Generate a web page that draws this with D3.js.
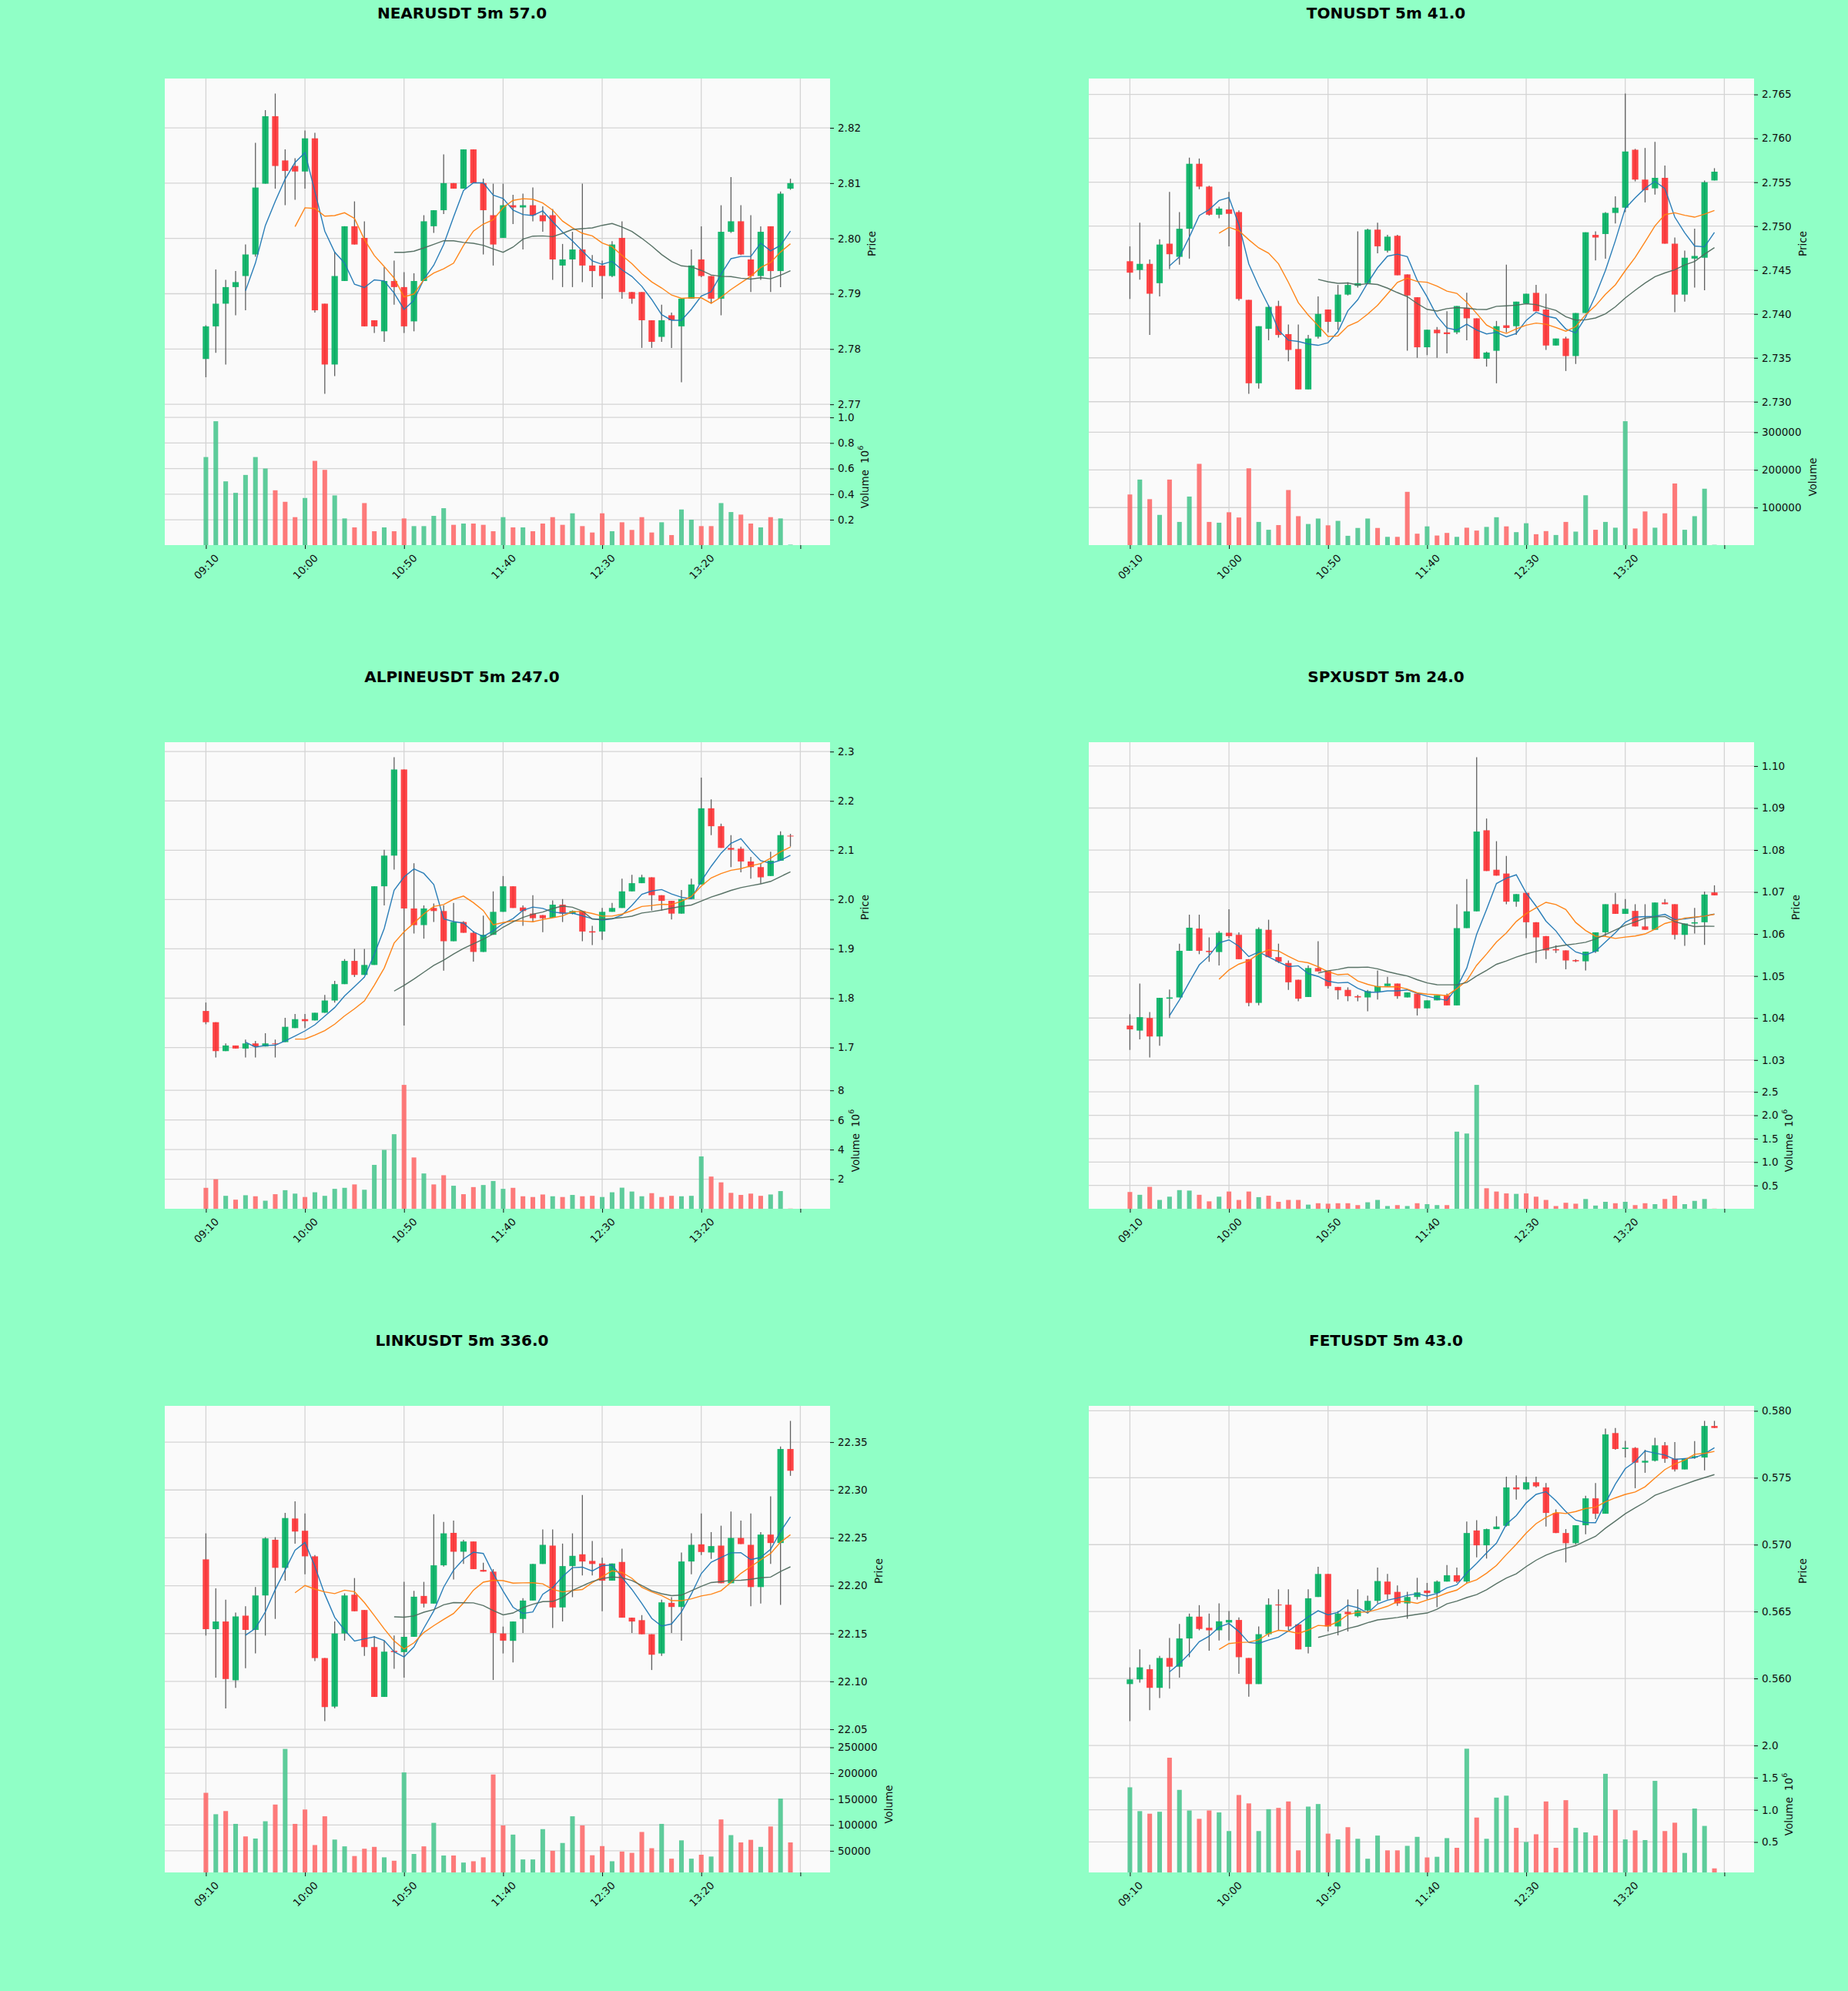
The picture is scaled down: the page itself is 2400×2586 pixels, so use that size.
<!DOCTYPE html>
<html>
<head>
<meta charset="utf-8">
<script src="https://cdn.jsdelivr.net/npm/d3@7"></script>
<style>
  body { margin: 0; background: #90ffc6; }
  svg { display: block; }
</style>
</head>
<body>
<svg id="chart"></svg>
<script>
/* global d3 */
// ---- data : [open, high, low, close, volume] ----
const titles = ["NEARUSDT 5m 57.0", "TONUSDT 5m 41.0", "ALPINEUSDT 5m 247.0", "SPXUSDT 5m 24.0", "LINKUSDT 5m 336.0", "FETUSDT 5m 43.0"]
const xTickLabels = ["09:10", "10:00", "10:50", "11:40", "12:30", "13:20", ""]
const mavWindows = [5, 10, 20]

// tick steps / label decimals per panel
const priceTickStep = [0.01, 0.005, 0.1, 0.01, 0.05, 0.005]
const priceDecimals = [2, 3, 1, 2, 2, 3]
const volTickStep = [0.2, 100000, 2, 0.5, 50000, 0.5]
const volDecimals = [1, 0, 0, 1, 0, 1]
const volExponent = [6, 0, 6, 6, 0, 6]   // volumes below are stored in 10^exp units

const nearBars = [
	[2.7782, 2.7843, 2.7749, 2.7841, 0.69], [2.7841, 2.7944, 2.7793, 2.7882, 0.97], [2.7882, 2.7925, 2.7772, 2.7912, 0.50],
	[2.7912, 2.7941, 2.7861, 2.7921, 0.41], [2.7932, 2.7989, 2.7870, 2.7971, 0.55], [2.7971, 2.8173, 2.7967, 2.8092, 0.69],
	[2.8099, 2.8232, 2.8099, 2.8221, 0.60], [2.8221, 2.8262, 2.8090, 2.8131, 0.43], [2.8141, 2.8161, 2.8060, 2.8122, 0.34],
	[2.8131, 2.8145, 2.8070, 2.8121, 0.22], [2.8121, 2.8195, 2.8090, 2.8181, 0.37], [2.8181, 2.8191, 2.7866, 2.7870, 0.66],
	[2.7882, 2.7882, 2.7719, 2.7772, 0.59], [2.7772, 2.7976, 2.7751, 2.7932, 0.39], [2.7923, 2.8022, 2.7923, 2.8022, 0.21],
	[2.8022, 2.8067, 2.7989, 2.7989, 0.14], [2.8001, 2.8031, 2.7841, 2.7841, 0.33], [2.7852, 2.7852, 2.7829, 2.7841, 0.11],
	[2.7832, 2.7948, 2.7813, 2.7923, 0.14], [2.7923, 2.7960, 2.7880, 2.7912, 0.11], [2.7912, 2.7939, 2.7829, 2.7841, 0.21],
	[2.7850, 2.7937, 2.7832, 2.7923, 0.15], [2.7923, 2.8042, 2.7923, 2.8031, 0.15], [2.8022, 2.8051, 2.8010, 2.8051, 0.23],
	[2.8051, 2.8152, 2.8044, 2.8100, 0.29], [2.8100, 2.8100, 2.8090, 2.8090, 0.16], [2.8090, 2.8161, 2.8090, 2.8161, 0.17],
	[2.8161, 2.8161, 2.8100, 2.8100, 0.17], [2.8100, 2.8108, 2.7971, 2.8051, 0.16], [2.8042, 2.8099, 2.7951, 2.7989, 0.11],
	[2.8001, 2.8099, 2.8001, 2.8060, 0.22], [2.8060, 2.8079, 2.8026, 2.8056, 0.14], [2.8056, 2.8081, 2.7980, 2.8060, 0.14],
	[2.8060, 2.8092, 2.8031, 2.8042, 0.11], [2.8042, 2.8058, 2.8012, 2.8031, 0.17], [2.8042, 2.8053, 2.7925, 2.7962, 0.22],
	[2.7951, 2.7990, 2.7912, 2.7962, 0.16], [2.7962, 2.8012, 2.7912, 2.7980, 0.25], [2.7980, 2.8099, 2.7921, 2.7951, 0.15],
	[2.7951, 2.7970, 2.7912, 2.7941, 0.10], [2.7951, 2.7960, 2.7891, 2.7932, 0.25], [2.7932, 2.7995, 2.7930, 2.7989, 0.11],
	[2.8001, 2.8031, 2.7891, 2.7903, 0.18], [2.7903, 2.7903, 2.7882, 2.7891, 0.12], [2.7903, 2.7903, 2.7802, 2.7852, 0.22],
	[2.7852, 2.7852, 2.7802, 2.7813, 0.10], [2.7822, 2.7880, 2.7813, 2.7852, 0.18], [2.7861, 2.7866, 2.7802, 2.7852, 0.08],
	[2.7841, 2.7891, 2.7740, 2.7891, 0.28], [2.7891, 2.7980, 2.7891, 2.7951, 0.20], [2.7962, 2.8022, 2.7930, 2.7932, 0.15],
	[2.7932, 2.7932, 2.7882, 2.7891, 0.15], [2.7891, 2.8060, 2.7861, 2.8012, 0.33], [2.8012, 2.8111, 2.8010, 2.8031, 0.26],
	[2.8031, 2.8060, 2.7970, 2.7971, 0.24], [2.7962, 2.8042, 2.7903, 2.7932, 0.17], [2.7932, 2.8022, 2.7925, 2.8012, 0.14],
	[2.8022, 2.8022, 2.7903, 2.7941, 0.22], [2.7941, 2.8085, 2.7912, 2.8081, 0.21], [2.8090, 2.8108, 2.8088, 2.8100, 0.005],
]

const tonBars = [
	[2.7460, 2.7477, 2.7417, 2.7447, 134700], [2.7450, 2.7504, 2.7439, 2.7457, 174300], [2.7457, 2.7462, 2.7376, 2.7423, 122200],
	[2.7435, 2.7485, 2.7420, 2.7479, 80500], [2.7480, 2.7539, 2.7451, 2.7468, 174300], [2.7465, 2.7516, 2.7456, 2.7497, 61800],
	[2.7497, 2.7578, 2.7463, 2.7571, 129200], [2.7571, 2.7577, 2.7542, 2.7545, 216000], [2.7545, 2.7546, 2.7512, 2.7513, 61800],
	[2.7513, 2.7522, 2.7509, 2.7520, 59700], [2.7519, 2.7539, 2.7477, 2.7514, 87500], [2.7516, 2.7518, 2.7415, 2.7417, 73600],
	[2.7416, 2.7416, 2.7309, 2.7321, 204200], [2.7321, 2.7386, 2.7315, 2.7386, 61800], [2.7383, 2.7410, 2.7370, 2.7408, 41000],
	[2.7409, 2.7415, 2.7373, 2.7376, 53500], [2.7377, 2.7388, 2.7346, 2.7359, 146500], [2.7360, 2.7388, 2.7314, 2.7314, 77100],
	[2.7314, 2.7376, 2.7314, 2.7372, 56300], [2.7374, 2.7420, 2.7372, 2.7400, 70800], [2.7405, 2.7405, 2.7379, 2.7391, 52800],
	[2.7391, 2.7433, 2.7382, 2.7422, 64600], [2.7422, 2.7436, 2.7421, 2.7433, 25000], [2.7432, 2.7494, 2.7430, 2.7435, 45800],
	[2.7435, 2.7497, 2.7435, 2.7496, 70800], [2.7496, 2.7504, 2.7469, 2.7477, 45800], [2.7472, 2.7490, 2.7470, 2.7488, 22200],
	[2.7489, 2.7490, 2.7444, 2.7444, 22200], [2.7445, 2.7445, 2.7358, 2.7421, 141700], [2.7419, 2.7419, 2.7350, 2.7362, 30600],
	[2.7362, 2.7382, 2.7353, 2.7382, 50000], [2.7382, 2.7385, 2.7350, 2.7378, 25700], [2.7379, 2.7403, 2.7355, 2.7377, 32600],
	[2.7379, 2.7409, 2.7377, 2.7409, 22200], [2.7407, 2.7424, 2.7370, 2.7395, 46500], [2.7395, 2.7395, 2.7349, 2.7349, 38900],
	[2.7349, 2.7357, 2.7340, 2.7356, 48600], [2.7358, 2.7392, 2.7321, 2.7386, 74300], [2.7387, 2.7456, 2.7379, 2.7384, 50000],
	[2.7386, 2.7414, 2.7376, 2.7414, 34700], [2.7412, 2.7423, 2.7412, 2.7423, 58300], [2.7424, 2.7433, 2.7403, 2.7403, 29200],
	[2.7405, 2.7423, 2.7359, 2.7364, 37500], [2.7364, 2.7372, 2.7364, 2.7372, 27100], [2.7372, 2.7374, 2.7335, 2.7352, 61800],
	[2.7352, 2.7401, 2.7343, 2.7401, 36100], [2.7401, 2.7493, 2.7401, 2.7493, 132600], [2.7490, 2.7494, 2.7461, 2.7487, 41000],
	[2.7491, 2.7516, 2.7463, 2.7515, 61800], [2.7515, 2.7534, 2.7503, 2.7521, 46500], [2.7521, 2.7651, 2.7516, 2.7585, 329200],
	[2.7587, 2.7588, 2.7551, 2.7553, 44400], [2.7553, 2.7589, 2.7527, 2.7541, 89600], [2.7543, 2.7596, 2.7536, 2.7555, 46500],
	[2.7555, 2.7569, 2.7480, 2.7480, 84700], [2.7480, 2.7487, 2.7402, 2.7422, 163900], [2.7422, 2.7472, 2.7414, 2.7464, 41000],
	[2.7463, 2.7497, 2.7430, 2.7466, 77100], [2.7464, 2.7552, 2.7427, 2.7550, 150000], [2.7552, 2.7566, 2.7552, 2.7562, 1000],
]

const alpineBars = [
	[1.7741, 1.7912, 1.7472, 1.7513, 1.42], [1.7513, 1.7513, 1.6798, 1.6927, 2.00], [1.6927, 1.7083, 1.6927, 1.7041, 0.88],
	[1.7041, 1.7041, 1.6979, 1.6979, 0.62], [1.6979, 1.7161, 1.6798, 1.7083, 0.92], [1.7083, 1.7135, 1.6798, 1.7021, 0.85],
	[1.7021, 1.7290, 1.7021, 1.7083, 0.55], [1.7083, 1.7161, 1.6798, 1.7070, 0.99], [1.7109, 1.7601, 1.7109, 1.7420, 1.26],
	[1.7394, 1.7679, 1.7394, 1.7575, 1.03], [1.7575, 1.7679, 1.7394, 1.7534, 0.80], [1.7549, 1.7705, 1.7549, 1.7705, 1.12],
	[1.7705, 1.8067, 1.7705, 1.7953, 0.88], [1.7953, 1.8352, 1.7912, 1.8285, 1.35], [1.8285, 1.8793, 1.8285, 1.8756, 1.42],
	[1.8756, 1.9000, 1.8430, 1.8472, 1.65], [1.8472, 1.9000, 1.8472, 1.8674, 1.29], [1.8674, 2.0269, 1.8674, 2.0269, 2.97],
	[2.0269, 2.1010, 1.9881, 2.0891, 3.98], [2.0891, 2.2886, 2.0606, 2.2637, 5.04], [2.2637, 2.2637, 1.7446, 1.9819, 8.37],
	[1.9819, 2.0736, 1.9311, 1.9482, 3.47], [1.9482, 1.9881, 1.9207, 1.9819, 2.39], [1.9830, 1.9922, 1.9544, 1.9767, 1.65],
	[1.9767, 1.9881, 1.8560, 1.9155, 2.27], [1.9155, 1.9933, 1.9155, 1.9544, 1.56], [1.9544, 1.9560, 1.9326, 1.9326, 0.99],
	[1.9326, 1.9363, 1.8741, 1.8938, 1.47], [1.8938, 1.9674, 1.8938, 1.9285, 1.61], [1.9285, 2.0166, 1.9285, 1.9751, 1.88],
	[1.9751, 2.0477, 1.9751, 2.0269, 1.35], [2.0269, 2.0269, 1.9829, 1.9829, 1.42], [1.9839, 1.9881, 1.9466, 1.9767, 0.85],
	[1.9715, 2.0088, 1.9544, 1.9622, 0.80], [1.9684, 1.9684, 1.9337, 1.9620, 0.97], [1.9632, 1.9984, 1.9632, 1.9896, 0.85],
	[1.9896, 2.0010, 1.9544, 1.9715, 0.80], [1.9715, 1.9780, 1.9700, 1.9767, 0.94], [1.9767, 1.9767, 1.9155, 1.9352, 0.85],
	[1.9357, 1.9466, 1.9078, 1.9332, 0.88], [1.9352, 1.9829, 1.9181, 1.9751, 0.80], [1.9751, 1.9933, 1.9751, 1.9829, 1.12],
	[1.9829, 2.0425, 1.9829, 2.0166, 1.43], [2.0166, 2.0503, 2.0166, 2.0332, 1.17], [2.0332, 2.0503, 2.0332, 2.0451, 0.85],
	[2.0451, 2.0451, 1.9777, 2.0088, 1.06], [2.0088, 2.0088, 1.9777, 1.9974, 0.80], [1.9974, 1.9974, 1.9596, 1.9715, 0.88],
	[1.9715, 2.0192, 1.9715, 2.0010, 0.85], [2.0010, 2.0425, 2.0010, 2.0306, 0.88], [2.0306, 2.2472, 2.0306, 2.1850, 3.54],
	[2.1850, 2.2031, 2.1306, 2.1487, 2.18], [2.1487, 2.1539, 2.1047, 2.1047, 1.79], [2.1047, 2.1306, 2.0658, 2.1010, 1.08],
	[2.1031, 2.1073, 2.0554, 2.0772, 0.94], [2.0772, 2.0865, 2.0425, 2.0658, 1.03], [2.0658, 2.0736, 2.0321, 2.0451, 0.88],
	[2.0477, 2.0969, 2.0477, 2.0788, 0.97], [2.0788, 2.1383, 2.0788, 2.1306, 1.20], [2.1295, 2.1332, 2.1073, 2.1285, 0.02],
]

const spxBars = [
	[1.0382, 1.0409, 1.0324, 1.0373, 0.36], [1.0370, 1.0482, 1.0349, 1.0402, 0.30], [1.0400, 1.0414, 1.0306, 1.0356, 0.47],
	[1.0356, 1.0448, 1.0334, 1.0448, 0.19], [1.0446, 1.0468, 1.0400, 1.0449, 0.26], [1.0449, 1.0577, 1.0449, 1.0560, 0.40],
	[1.0560, 1.0646, 1.0560, 1.0615, 0.39], [1.0613, 1.0646, 1.0552, 1.0560, 0.30], [1.0560, 1.0592, 1.0534, 1.0557, 0.16],
	[1.0557, 1.0607, 1.0525, 1.0603, 0.26], [1.0603, 1.0659, 1.0590, 1.0595, 0.37], [1.0598, 1.0604, 1.0540, 1.0540, 0.19],
	[1.0540, 1.0540, 1.0428, 1.0436, 0.37], [1.0436, 1.0616, 1.0430, 1.0612, 0.25], [1.0610, 1.0634, 1.0545, 1.0545, 0.28],
	[1.0545, 1.0577, 1.0531, 1.0534, 0.15], [1.0531, 1.0537, 1.0467, 1.0485, 0.19], [1.0491, 1.0491, 1.0440, 1.0446, 0.19],
	[1.0450, 1.0525, 1.0450, 1.0519, 0.09], [1.0519, 1.0583, 1.0511, 1.0511, 0.12], [1.0512, 1.0512, 1.0470, 1.0476, 0.11],
	[1.0474, 1.0474, 1.0444, 1.0466, 0.12], [1.0467, 1.0473, 1.0440, 1.0452, 0.12], [1.0452, 1.0455, 1.0440, 1.0449, 0.08],
	[1.0449, 1.0467, 1.0416, 1.0464, 0.14], [1.0463, 1.0513, 1.0444, 1.0476, 0.19], [1.0476, 1.0498, 1.0476, 1.0482, 0.06],
	[1.0482, 1.0482, 1.0446, 1.0452, 0.08], [1.0449, 1.0461, 1.0449, 1.0461, 0.06], [1.0458, 1.0458, 1.0406, 1.0423, 0.12],
	[1.0423, 1.0442, 1.0423, 1.0442, 0.10], [1.0442, 1.0454, 1.0442, 1.0454, 0.08], [1.0454, 1.0458, 1.0430, 1.0430, 0.08],
	[1.0430, 1.0671, 1.0430, 1.0614, 1.65], [1.0614, 1.0731, 1.0614, 1.0654, 1.61], [1.0654, 1.1021, 1.0654, 1.0844, 2.65],
	[1.0847, 1.0875, 1.0750, 1.0750, 0.44], [1.0753, 1.0821, 1.0739, 1.0739, 0.37], [1.0744, 1.0786, 1.0671, 1.0677, 0.33],
	[1.0677, 1.0695, 1.0665, 1.0695, 0.32], [1.0698, 1.0698, 1.0590, 1.0628, 0.33], [1.0628, 1.0628, 1.0531, 1.0592, 0.26],
	[1.0595, 1.0595, 1.0540, 1.0561, 0.19], [1.0564, 1.0573, 1.0555, 1.0561, 0.06], [1.0561, 1.0561, 1.0516, 1.0537, 0.13],
	[1.0538, 1.0540, 1.0533, 1.0535, 0.11], [1.0535, 1.0558, 1.0513, 1.0558, 0.21], [1.0558, 1.0604, 1.0555, 1.0604, 0.07],
	[1.0604, 1.0671, 1.0595, 1.0671, 0.15], [1.0671, 1.0698, 1.0648, 1.0648, 0.12], [1.0648, 1.0683, 1.0648, 1.0660, 0.15],
	[1.0655, 1.0671, 1.0618, 1.0618, 0.08], [1.0618, 1.0671, 1.0610, 1.0610, 0.12], [1.0610, 1.0675, 1.0610, 1.0675, 0.10],
	[1.0675, 1.0683, 1.0671, 1.0671, 0.21], [1.0671, 1.0671, 1.0587, 1.0598, 0.28], [1.0598, 1.0625, 1.0572, 1.0625, 0.10],
	[1.0625, 1.0662, 1.0601, 1.0628, 0.17], [1.0628, 1.0701, 1.0574, 1.0694, 0.21], [1.0699, 1.0716, 1.0692, 1.0692, 0.005],
]

const linkBars = [
	[22.2275, 22.2547, 22.1479, 22.1546, 162100], [22.1546, 22.1973, 22.1039, 22.1626, 120700], [22.1626, 22.1853, 22.0718, 22.1025, 126800],
	[22.1012, 22.1719, 22.0932, 22.1679, 102000], [22.1687, 22.1786, 22.1138, 22.1538, 77800], [22.1538, 22.1986, 22.1292, 22.1898, 73700],
	[22.1898, 22.2507, 22.1479, 22.2494, 107100], [22.2480, 22.2507, 22.1653, 22.2187, 139400], [22.2187, 22.2761, 22.2053, 22.2707, 246900],
	[22.2702, 22.2881, 22.2440, 22.2566, 102000], [22.2574, 22.2755, 22.2120, 22.2307, 129800], [22.2307, 22.2320, 22.1212, 22.1244, 61100],
	[22.1244, 22.1244, 22.0585, 22.0732, 116700], [22.0737, 22.1626, 22.0720, 22.1501, 71700], [22.1501, 22.1920, 22.1426, 22.1898, 58600],
	[22.1906, 22.2080, 22.1733, 22.1733, 39900], [22.1746, 22.1746, 22.1266, 22.1359, 54000], [22.1359, 22.1474, 22.0838, 22.0838, 57600],
	[22.0838, 22.1426, 22.0838, 22.1311, 37400], [22.1319, 22.1479, 22.1132, 22.1306, 30800], [22.1306, 22.2040, 22.1039, 22.1466, 201500],
	[22.1466, 22.1946, 22.1466, 22.1885, 43900], [22.1893, 22.2040, 22.1773, 22.1813, 58600], [22.1813, 22.2747, 22.1813, 22.2213, 104000],
	[22.2213, 22.2667, 22.2200, 22.2547, 40900], [22.2552, 22.2680, 22.2066, 22.2355, 40900], [22.2355, 22.2480, 22.2227, 22.2462, 27300],
	[22.2462, 22.2462, 22.2173, 22.2173, 29800], [22.2165, 22.2240, 22.2147, 22.2147, 37400], [22.2147, 22.2173, 22.1015, 22.1506, 197500],
	[22.1501, 22.1573, 22.1292, 22.1426, 99000], [22.1424, 22.1626, 22.1199, 22.1626, 81300], [22.1653, 22.1870, 22.1506, 22.1845, 33300],
	[22.1845, 22.2227, 22.1845, 22.2227, 33300], [22.2227, 22.2587, 22.2227, 22.2427, 91900], [22.2419, 22.2587, 22.1559, 22.1773, 50000],
	[22.1773, 22.2440, 22.1626, 22.2205, 65100], [22.2205, 22.2547, 22.1880, 22.2312, 116700], [22.2328, 22.2947, 22.2107, 22.2253, 99000],
	[22.2259, 22.2467, 22.2107, 22.2227, 41400], [22.2232, 22.2293, 22.1733, 22.2053, 59100], [22.2053, 22.2232, 22.2053, 22.2232, 29800],
	[22.2248, 22.2387, 22.1666, 22.1666, 48500], [22.1666, 22.1666, 22.1506, 22.1626, 46000], [22.1640, 22.1693, 22.1493, 22.1493, 86400],
	[22.1493, 22.1493, 22.1119, 22.1279, 55000], [22.1292, 22.1853, 22.1266, 22.1826, 102000], [22.1821, 22.1880, 22.1506, 22.1778, 34800],
	[22.1778, 22.2347, 22.1426, 22.2253, 70200], [22.2253, 22.2547, 22.2120, 22.2427, 34800], [22.2432, 22.2755, 22.2320, 22.2352, 42400],
	[22.2347, 22.2560, 22.2280, 22.2414, 38900], [22.2419, 22.2627, 22.2026, 22.2026, 110600], [22.2026, 22.2774, 22.2026, 22.2499, 80300],
	[22.2499, 22.2680, 22.2435, 22.2435, 66200], [22.2427, 22.2755, 22.1786, 22.1986, 71200], [22.1986, 22.2560, 22.1813, 22.2534, 57600],
	[22.2534, 22.2934, 22.2227, 22.2446, 97000], [22.2446, 22.3455, 22.1800, 22.3428, 151000], [22.3428, 22.3722, 22.3148, 22.3201, 66200],
]

const fetBars = [
	[0.55958, 0.56083, 0.55681, 0.55993, 1.35], [0.55993, 0.56217, 0.55968, 0.56083, 0.98], [0.56069, 0.56102, 0.55763, 0.55930, 0.94],
	[0.55930, 0.56169, 0.55853, 0.56153, 0.97], [0.56153, 0.56303, 0.55924, 0.56088, 1.81], [0.56088, 0.56408, 0.56006, 0.56299, 1.31],
	[0.56299, 0.56485, 0.56159, 0.56462, 0.99], [0.56462, 0.56548, 0.56360, 0.56370, 0.86], [0.56379, 0.56485, 0.56207, 0.56360, 0.99],
	[0.56360, 0.56561, 0.56284, 0.56427, 0.96], [0.56418, 0.56504, 0.56284, 0.56437, 0.67], [0.56437, 0.56456, 0.56035, 0.56159, 1.23],
	[0.56153, 0.56153, 0.55863, 0.55958, 1.10], [0.55958, 0.56389, 0.55958, 0.56331, 0.67], [0.56331, 0.56599, 0.56312, 0.56551, 1.01],
	[0.56553, 0.56666, 0.56360, 0.56546, 1.03], [0.56551, 0.56666, 0.56360, 0.56389, 1.13], [0.56404, 0.56404, 0.56217, 0.56217, 0.37],
	[0.56236, 0.56666, 0.56188, 0.56599, 1.05], [0.56609, 0.56835, 0.56609, 0.56781, 1.09], [0.56781, 0.56781, 0.56351, 0.56389, 0.63],
	[0.56389, 0.56504, 0.56322, 0.56485, 0.54], [0.56498, 0.56590, 0.56351, 0.56480, 0.73], [0.56465, 0.56666, 0.56456, 0.56509, 0.55],
	[0.56509, 0.56619, 0.56494, 0.56580, 0.24], [0.56580, 0.56829, 0.56561, 0.56728, 0.60], [0.56724, 0.56781, 0.56590, 0.56628, 0.37],
	[0.56647, 0.56695, 0.56542, 0.56561, 0.37], [0.56561, 0.56647, 0.56446, 0.56609, 0.44], [0.56609, 0.56752, 0.56590, 0.56643, 0.58],
	[0.56657, 0.56714, 0.56590, 0.56638, 0.26], [0.56638, 0.56733, 0.56532, 0.56724, 0.27], [0.56724, 0.56848, 0.56724, 0.56771, 0.56],
	[0.56771, 0.56829, 0.56714, 0.56724, 0.41], [0.56724, 0.57173, 0.56714, 0.57087, 1.95], [0.57106, 0.57183, 0.56905, 0.56995, 0.88],
	[0.56995, 0.57120, 0.56896, 0.57116, 0.55], [0.57116, 0.57212, 0.57116, 0.57135, 1.19], [0.57141, 0.57508, 0.57135, 0.57428, 1.22],
	[0.57428, 0.57518, 0.57336, 0.57413, 0.72], [0.57413, 0.57508, 0.57408, 0.57466, 0.50], [0.57466, 0.57508, 0.57428, 0.57436, 0.62],
	[0.57428, 0.57460, 0.57135, 0.57237, 1.13], [0.57237, 0.57263, 0.57087, 0.57087, 0.41], [0.57087, 0.57116, 0.56867, 0.57011, 1.15],
	[0.57011, 0.57145, 0.57001, 0.57145, 0.72], [0.57145, 0.57365, 0.57078, 0.57346, 0.65], [0.57346, 0.57460, 0.57192, 0.57231, 0.60],
	[0.57231, 0.57868, 0.57231, 0.57824, 1.56], [0.57834, 0.57872, 0.57709, 0.57715, 1.00], [0.57715, 0.57776, 0.57652, 0.57725, 0.54],
	[0.57723, 0.57729, 0.57422, 0.57613, 0.68], [0.57613, 0.57709, 0.57537, 0.57627, 0.53], [0.57627, 0.57799, 0.57622, 0.57742, 1.45],
	[0.57742, 0.57767, 0.57612, 0.57642, 0.67], [0.57642, 0.57767, 0.57547, 0.57562, 0.80], [0.57562, 0.57642, 0.57562, 0.57642, 0.33],
	[0.57651, 0.57774, 0.57642, 0.57661, 1.02], [0.57651, 0.57925, 0.57556, 0.57887, 0.75], [0.57887, 0.57925, 0.57872, 0.57872, 0.09],
]

const allBars = [nearBars, tonBars, alpineBars, spxBars, linkBars, fetBars]

// ---- layout & style ----
const W = 2400, H = 2586
const FONT = "DejaVu Sans, Liberation Sans, sans-serif"
const FIG_BG = "#90ffc6", AX_BG = "#fafafa", GRID = "#d4d4d4", TEXT = "#101010"
const UP = "#00b060", DOWN = "#fe3032", WICK = "#606060"
const VOL_UP = "#4dc790", VOL_DOWN = "#fd6b6c"
const MAV_COLORS = ["#1f77b4", "#ff7f0e", "#4f6a5e"]
const COL_X = [214, 1414], AX_W = 864
const TITLE_X = [600, 1800]
const ROW_Y0 = 102, ROW_STEP = 862, PRICE_H = 429, VOL_H = 177
const X_DOMAIN = [-4.15, 63]
const CANDLE_W = 0.64, VOL_W = 0.47

const oA = d => d[0], hA = d => d[1], lA = d => d[2], cA = d => d[3], vA = d => d[4]

function tickRange(lo, hi, step) {
	const out = []
	for (let k = Math.ceil(lo / step - 1e-9); k * step <= hi + 1e-12; k++) out.push(+(k * step).toFixed(10))
	return out
}

function movingAverage(closes, w) {
	return closes.map((_, i) => i < w - 1 ? null : d3.mean(closes.slice(i - w + 1, i + 1)))
}

const svg = d3.select("#chart").attr("width", W).attr("height", H)
	.attr("font-family", FONT)
svg.append("rect").attr("width", W).attr("height", H).attr("fill", FIG_BG)

allBars.forEach((bars, k) => {
	const col = k % 2, row = Math.floor(k / 2)
	const left = COL_X[col], right = left + AX_W
	const top = ROW_Y0 + row * ROW_STEP
	const priceBot = top + PRICE_H, volBot = priceBot + VOL_H
	const g = svg.append("g").attr("class", "panel")

	// title
	g.append("text")
		.attr("x", TITLE_X[col]).attr("y", top - 78)
		.attr("text-anchor", "middle")
		.attr("font-size", 20).attr("font-weight", "bold").attr("fill", "#000")
		.text(titles[k])

	// scales
	const x = d3.scaleLinear().domain(X_DOMAIN).range([left, right])
	const lo = d3.min(bars, lA), hi = d3.max(bars, hA), pad = (hi - lo) * 0.05
	const yP = d3.scaleLinear().domain([lo - pad, hi + pad]).range([priceBot, top])
	const yV = d3.scaleLinear().domain([0.3 * d3.min(bars, vA), 1.1 * d3.max(bars, vA)]).range([volBot, priceBot])

	// axes backgrounds
	g.append("rect").attr("x", left).attr("y", top).attr("width", AX_W).attr("height", PRICE_H).attr("fill", AX_BG)
	g.append("rect").attr("x", left).attr("y", priceBot).attr("width", AX_W).attr("height", VOL_H).attr("fill", AX_BG)

	// grid
	const xTicks = d3.range(0, 61, 10)
	const pTicks = tickRange(yP.domain()[0], yP.domain()[1], priceTickStep[k])
	const vTicks = tickRange(yV.domain()[0], yV.domain()[1], volTickStep[k])
	const grid = g.append("g").attr("stroke", GRID).attr("stroke-width", 1.3)
	grid.selectAll(".gx").data(xTicks).join("line")
		.attr("x1", d => x(d)).attr("x2", d => x(d)).attr("y1", top).attr("y2", volBot)
	grid.selectAll(".gp").data(pTicks).join("line")
		.attr("x1", left).attr("x2", right).attr("y1", d => yP(d)).attr("y2", d => yP(d))
	grid.selectAll(".gv").data(vTicks).join("line")
		.attr("x1", left).attr("x2", right).attr("y1", d => yV(d)).attr("y2", d => yV(d))

	// candles
	const unit = x(1) - x(0)
	const candles = g.append("g")
	candles.selectAll("line").data(bars).join("line")
		.attr("x1", (d, i) => x(i)).attr("x2", (d, i) => x(i))
		.attr("y1", d => yP(hA(d))).attr("y2", d => yP(lA(d)))
		.attr("stroke", WICK).attr("stroke-width", 1.3)
	candles.selectAll("rect").data(bars).join("rect")
		.attr("x", (d, i) => x(i) - unit * CANDLE_W / 2)
		.attr("width", unit * CANDLE_W)
		.attr("y", d => yP(Math.max(oA(d), cA(d))))
		.attr("height", d => Math.max(1, Math.abs(yP(oA(d)) - yP(cA(d)))))
		.attr("fill", d => oA(d) < cA(d) ? UP : DOWN)
		.attr("opacity", 0.9)

	// moving averages
	const closes = bars.map(cA)
	mavWindows.forEach((w, m) => {
		const ma = movingAverage(closes, w)
		const line = d3.line().defined(d => d !== null).x((d, i) => x(i)).y(d => yP(d))
		g.append("path").datum(ma)
			.attr("d", line)
			.attr("fill", "none")
			.attr("stroke", MAV_COLORS[m])
			.attr("stroke-width", 1.4)
			.attr("opacity", 0.95)
	})

	// volume (colour by close vs previous close)
	g.append("g").selectAll("rect").data(bars).join("rect")
		.attr("x", (d, i) => x(i) - unit * VOL_W / 2)
		.attr("width", unit * VOL_W)
		.attr("y", d => Math.min(volBot, yV(vA(d))))
		.attr("height", d => Math.max(0, volBot - yV(vA(d))))
		.attr("fill", (d, i) => {
			const up = i === 0 ? oA(d) < cA(d) : closes[i - 1] < cA(d)
			return up ? VOL_UP : VOL_DOWN
		})
		.attr("opacity", 0.9)

	// axes
	function styleAxis(sel) {
		sel.select(".domain").remove()
		sel.selectAll(".tick line").attr("stroke", TEXT).attr("stroke-width", 1)
		sel.selectAll(".tick text").attr("fill", TEXT).attr("font-size", 13.5).attr("font-family", FONT)
	}
	const pAxis = g.append("g").attr("transform", `translate(${right},0)`)
		.call(d3.axisRight(yP).tickValues(pTicks).tickFormat(d3.format(`.${priceDecimals[k]}f`)).tickSize(5).tickPadding(5))
		.call(styleAxis)
	const vAxis = g.append("g").attr("transform", `translate(${right},0)`)
		.call(d3.axisRight(yV).tickValues(vTicks).tickFormat(d3.format(`.${volDecimals[k]}f`)).tickSize(5).tickPadding(5))
		.call(styleAxis)
	const xAxis = g.append("g").attr("transform", `translate(0,${volBot})`)
		.call(d3.axisBottom(x).tickValues(xTicks).tickFormat((d, i) => xTickLabels[i]).tickSize(5))
		.call(styleAxis)
	xAxis.selectAll(".tick text")
		.attr("y", 0).attr("dy", null)
		.attr("text-anchor", "middle")
		.attr("dominant-baseline", "central")
		.attr("transform", "translate(0,28) rotate(-45)")

	// y labels
	const pBox = pAxis.node().getBBox()
	const px = right + pBox.x + pBox.width + 14
	g.append("text")
		.attr("transform", `translate(${px},${(top + priceBot) / 2}) rotate(-90)`)
		.attr("text-anchor", "middle").attr("dominant-baseline", "central")
		.attr("font-size", 13.5).attr("fill", TEXT)
		.text("Price")
	const vBox = vAxis.node().getBBox()
	const vx = right + vBox.x + vBox.width + 14
	const vLabel = g.append("text")
		.attr("transform", `translate(${vx},${(priceBot + volBot) / 2}) rotate(-90)`)
		.attr("text-anchor", "middle").attr("dominant-baseline", "central")
		.attr("font-size", 13.5).attr("fill", TEXT)
	vLabel.append("tspan").text("Volume")
	if (volExponent[k] > 0) {
		vLabel.append("tspan").attr("dx", 8).text("10")
		vLabel.append("tspan").attr("font-size", 9.5).attr("dy", -6).text(volExponent[k])
	}
})
</script>
</body>
</html>
